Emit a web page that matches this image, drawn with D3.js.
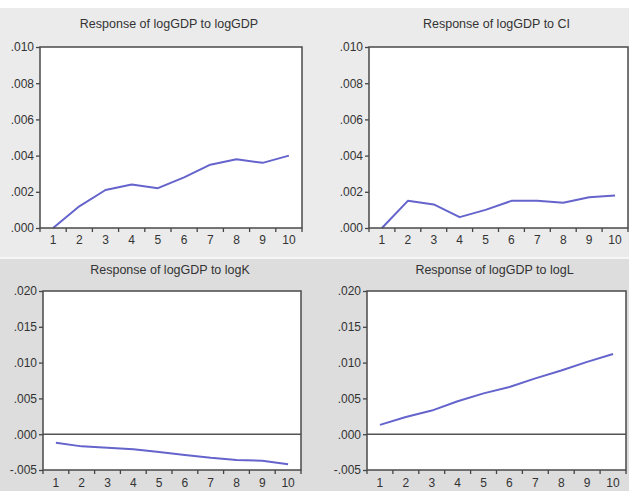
<!DOCTYPE html>
<html>
<head>
<meta charset="utf-8">
<script src="https://cdn.jsdelivr.net/npm/d3@7"></script>
<style>
  html, body { margin: 0; padding: 0; background: #ffffff; }
  svg { display: block; }
  text { font-family: "Liberation Sans", Arial, sans-serif; fill: #333333; }
</style>
</head>
<body>
<svg id="chart" width="629" height="491"></svg>
<script>
// Impulse responses of logGDP, periods 1..10
const periods = [1, 2, 3, 4, 5, 6, 7, 8, 9, 10];
const respGDP = [0.0000, 0.0012, 0.0021, 0.0024, 0.0022, 0.0028, 0.0035, 0.0038, 0.0036, 0.0040];
const respCI  = [0.0000, 0.0015, 0.0013, 0.0006, 0.0010, 0.0015, 0.0015, 0.0014, 0.0017, 0.0018];
const respK   = [-0.0012, -0.0017, -0.0019, -0.0021, -0.0025, -0.0029, -0.0033, -0.0036, -0.0037, -0.0042];
const respL   = [0.0013, 0.0024, 0.0033, 0.0046, 0.0057, 0.0066, 0.0078, 0.0089, 0.0101, 0.0112];

const titles = [
  "Response of logGDP to logGDP",
  "Response of logGDP to CI",
  "Response of logGDP to logK",
  "Response of logGDP to logL"
];
const topTicks = [0, 0.002, 0.004, 0.006, 0.008, 0.010];
const bottomTicks = [-0.005, 0, 0.005, 0.010, 0.015, 0.020];

const svg = d3.select("#chart");

// background bands
svg.append("rect").attr("x", 0).attr("y", 0).attr("width", 629).attr("height", 491).attr("fill", "#ffffff");
svg.append("rect").attr("x", 0).attr("y", 8).attr("width", 629).attr("height", 249).attr("fill", "#ebebeb");
svg.append("rect").attr("x", 0).attr("y", 257).attr("width", 629).attr("height", 2).attr("fill", "#f6f6f6");
svg.append("rect").attr("x", 0).attr("y", 259).attr("width", 629).attr("height", 232).attr("fill", "#dddddd");

const panels = [
  { title: titles[0], values: respGDP, ticks: topTicks, domain: [0, 0.010],
    box: { l: 40, r: 302, t: 47, b: 228 }, titleY: 24, labelDy: 16, zero: false },
  { title: titles[1], values: respCI, ticks: topTicks, domain: [0, 0.010],
    box: { l: 369, r: 628, t: 47, b: 228 }, titleY: 24, labelDy: 16, zero: false },
  { title: titles[2], values: respK, ticks: bottomTicks, domain: [-0.005, 0.020],
    box: { l: 43, r: 301, t: 291, b: 470 }, titleY: 270, labelDy: 17, zero: true },
  { title: titles[3], values: respL, ticks: bottomTicks, domain: [-0.005, 0.020],
    box: { l: 367, r: 626, t: 291, b: 470 }, titleY: 270, labelDy: 17, zero: true }
];

const fmt = v => {
  const s = d3.format(".3f")(Math.abs(v)).replace(/^0/, "");
  return (v < 0 ? "-" : "") + s;
};

panels.forEach(p => {
  const { l, r, t, b } = p.box;
  const x = d3.scaleBand().domain(periods).range([l, r]);
  const y = d3.scaleLinear().domain(p.domain).range([b, t]);
  const g = svg.append("g");

  g.append("rect").attr("x", l).attr("y", t).attr("width", r - l).attr("height", b - t)
    .attr("fill", "#ffffff");

  g.append("text").attr("x", (l + r) / 2 - 2).attr("y", p.titleY).attr("dy", "0.35em")
    .attr("text-anchor", "middle").style("font-size", "12.5px").text(p.title);

  // y axis ticks & labels
  const ya = g.append("g").attr("transform", `translate(${l},0)`)
    .call(d3.axisLeft(y).tickValues(p.ticks).tickFormat(fmt).tickSize(4).tickPadding(2));
  ya.select(".domain").remove();
  ya.selectAll("line").attr("stroke", "#444").attr("stroke-width", 1.3);
  ya.selectAll("text").style("font-size", "12px").style("font-family", "Liberation Sans, Arial, sans-serif").attr("fill", "#333");

  // x axis: ticks at band boundaries, labels at band centres
  const edges = periods.map(d => x(d)).concat([r]);
  g.selectAll(".xt").data(edges).enter().append("line")
    .attr("x1", d => d).attr("x2", d => d).attr("y1", b).attr("y2", b + 4)
    .attr("stroke", "#444").attr("stroke-width", 1.3);
  g.selectAll(".xl").data(periods).enter().append("text")
    .attr("x", d => x(d) + x.bandwidth() / 2).attr("y", b + p.labelDy)
    .attr("text-anchor", "middle").style("font-size", "12px").text(d => d);

  if (p.zero) {
    g.append("line").attr("x1", l).attr("x2", r).attr("y1", y(0)).attr("y2", y(0))
      .attr("stroke", "#555").attr("stroke-width", 1.5);
  }

  const line = d3.line()
    .x((d, i) => x(periods[i]) + x.bandwidth() / 2)
    .y(d => y(d));
  g.append("path").datum(p.values).attr("d", line)
    .attr("fill", "none").attr("stroke", "#6464cc").attr("stroke-width", 2)
    .attr("stroke-linejoin", "round");

  g.append("rect").attr("x", l).attr("y", t).attr("width", r - l).attr("height", b - t)
    .attr("fill", "none").attr("stroke", "#4a4a4a").attr("stroke-width", 1.5);
});
</script>
</body>
</html>
